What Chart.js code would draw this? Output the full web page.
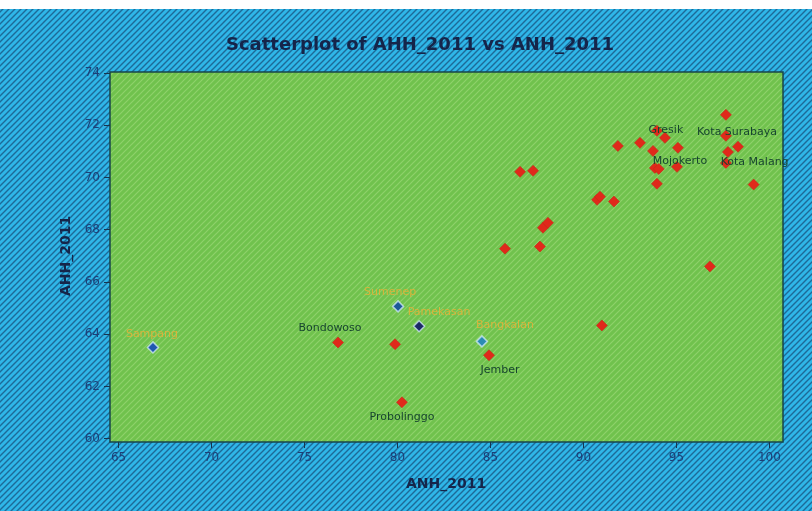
<!DOCTYPE html>
<html>
<head>
<meta charset="utf-8">
<script src="https://cdn.jsdelivr.net/npm/chart.js@4"></script>
<style>
  html, body { margin: 0; padding: 0; background: #fff; }
  #wrap { width: 812px; height: 511px; }
</style>
</head>
<body>
<div id="wrap"><canvas id="chart" width="812" height="511"></canvas></div>
<script>
// tick values on both axes
const xTicks = [65, 70, 75, 80, 85, 90, 95, 100];
const yTicks = [60, 62, 64, 66, 68, 70, 72, 74];

// red points: kabupaten / kota (ANH_2011, AHH_2011)
const redAnh = [97.66, 93.95, 94.38, 97.66, 91.85, 93.04, 93.74, 95.08, 97.77, 98.31,
                97.66, 93.84, 94.05, 95.03, 93.95, 99.15, 86.59, 87.29, 90.73, 90.89,
                91.64, 87.82, 88.09, 85.78, 87.66, 96.80, 90.99, 76.80, 79.87, 84.92, 80.24];
const redAhh = [72.40, 71.79, 71.52, 71.60, 71.21, 71.33, 71.02, 71.14, 70.98, 71.18,
                70.56, 70.37, 70.33, 70.41, 69.76, 69.73, 70.22, 70.26, 69.15, 69.27,
                69.08, 68.08, 68.27, 67.28, 67.36, 66.60, 64.34, 63.69, 63.62, 63.20, 61.40];
const redNames = ['', '', 'Gresik', '', '', '', '', '', '', 'Kota Surabaya',
                  '', '', '', 'Mojokerto', '', 'Kota Malang', '', '', '', '',
                  '', '', '', '', '', '', '', 'Bondowoso', '', 'Jember', 'Probolinggo'];

// pulau Madura (titik biru)
const maduraAnh = [66.85, 80.03, 81.16, 84.54];
const maduraAhh = [63.50, 65.07, 64.31, 63.73];
const maduraNames = ['Sampang', 'Sumenep', 'Pamekasan', 'Bangkalan'];

// styling only: where each label sits relative to its point
const labelOffset = {
  'Gresik': [1, -8], 'Kota Surabaya': [-1, -15], 'Mojokerto': [3, -6], 'Kota Malang': [1, -22],
  'Bondowoso': [-8, -14], 'Jember': [11, 15], 'Probolinggo': [0, 15],
  'Sampang': [-1, -13], 'Sumenep': [-8, -14], 'Pamekasan': [20, -14], 'Bangkalan': [23, -16]
};
const maduraColors = ['#1f58b0', '#1d5a98', '#1b2a66', '#2a8cb4'];

function hatch(base, line, size, width) {
  const c = document.createElement('canvas');
  c.width = size; c.height = size;
  const g = c.getContext('2d');
  g.fillStyle = base;
  g.fillRect(0, 0, size, size);
  g.strokeStyle = line;
  g.lineWidth = width;
  g.beginPath();
  g.moveTo(-1, size + 1); g.lineTo(size + 1, -1);
  g.moveTo(-1, 1); g.lineTo(1, -1);
  g.moveTo(size - 1, size + 1); g.lineTo(size + 1, size - 1);
  g.stroke();
  return g.createPattern(c, 'repeat');
}

const backdrop = {
  id: 'backdrop',
  beforeDraw(chart) {
    const { ctx, chartArea: a, width, height } = chart;
    ctx.save();
    ctx.fillStyle = hatch('#2fb6e8', '#1d6a98', 6, 1.4);
    ctx.fillRect(0, 0, width, height);
    ctx.fillStyle = '#ffffff';
    ctx.fillRect(0, 0, width, 9);
    ctx.fillStyle = hatch('#70c24d', '#8fd26b', 6, 1.2);
    ctx.fillRect(a.left, a.top, a.right - a.left, a.bottom - a.top);
    ctx.strokeStyle = '#17464a';
    ctx.lineWidth = 1.5;
    ctx.strokeRect(a.left, a.top, a.right - a.left, a.bottom - a.top);

    // judul dan nama sumbu
    ctx.fillStyle = '#15254a';
    ctx.textAlign = 'center';
    ctx.textBaseline = 'middle';
    ctx.font = 'bold 18px "DejaVu Sans"';
    ctx.fillText('Scatterplot of AHH_2011 vs ANH_2011', 420, 45);
    ctx.font = 'bold 14px "DejaVu Sans"';
    ctx.fillText('ANH_2011', 446, 484);
    ctx.translate(66, 256);
    ctx.rotate(-Math.PI / 2);
    ctx.fillText('AHH_2011', 0, 0);
    ctx.restore();
  }
};

const pointLabels = {
  id: 'pointLabels',
  afterDatasetsDraw(chart) {
    const { ctx } = chart;
    ctx.save();
    ctx.font = '11px "DejaVu Sans"';
    ctx.textAlign = 'center';
    ctx.textBaseline = 'middle';
    chart.data.datasets.forEach((ds, di) => {
      const meta = chart.getDatasetMeta(di);
      ds.names.forEach((name, i) => {
        if (!name) return;
        const p = meta.data[i];
        const off = labelOffset[name] || [0, -12];
        ctx.fillStyle = ds.labelColor;
        ctx.fillText(name, p.x + off[0], p.y + off[1]);
      });
    });
    ctx.restore();
  }
};

const tickFont = { family: 'DejaVu Sans', size: 12 };

new Chart(document.getElementById('chart'), {
  type: 'scatter',
  data: {
    datasets: [
      {
        label: 'Kabupaten/Kota',
        data: redAnh.map((x, i) => ({ x, y: redAhh[i] })),
        names: redNames,
        labelColor: '#17452f',
        pointStyle: 'rectRot',
        pointRadius: 5.5,
        backgroundColor: '#e0291b',
        borderColor: 'rgba(200,40,20,0.6)',
        borderWidth: 1
      },
      {
        label: 'Madura',
        data: maduraAnh.map((x, i) => ({ x, y: maduraAhh[i] })),
        names: maduraNames,
        labelColor: '#d8b43c',
        pointStyle: 'rectRot',
        pointRadius: 5.5,
        backgroundColor: maduraColors,
        borderColor: 'rgba(210,235,250,0.75)',
        borderWidth: 1.5
      }
    ]
  },
  options: {
    responsive: false,
    animation: false,
    layout: { padding: { left: 0, top: 72, right: 29, bottom: 0 } },
    plugins: { legend: { display: false }, tooltip: { enabled: false } },
    scales: {
      x: {
        type: 'linear',
        min: 64.54,
        max: 100.73,
        afterFit(s) { s.height = 69; },
        afterBuildTicks(s) { s.ticks = xTicks.map(v => ({ value: v })); },
        grid: { drawOnChartArea: false, drawTicks: true, tickLength: 6, color: '#17354f' },
        border: { display: false },
        ticks: { color: '#1c3f78', font: tickFont, padding: 3 }
      },
      y: {
        type: 'linear',
        min: 59.88,
        max: 74.04,
        afterFit(s) { s.width = 110; },
        afterBuildTicks(s) { s.ticks = yTicks.map(v => ({ value: v })); },
        grid: { drawOnChartArea: false, drawTicks: true, tickLength: 6, color: '#17354f' },
        border: { display: false },
        ticks: { color: '#1c3f78', font: tickFont, padding: 4 }
      }
    }
  },
  plugins: [backdrop, pointLabels]
});
</script>
</body>
</html>
